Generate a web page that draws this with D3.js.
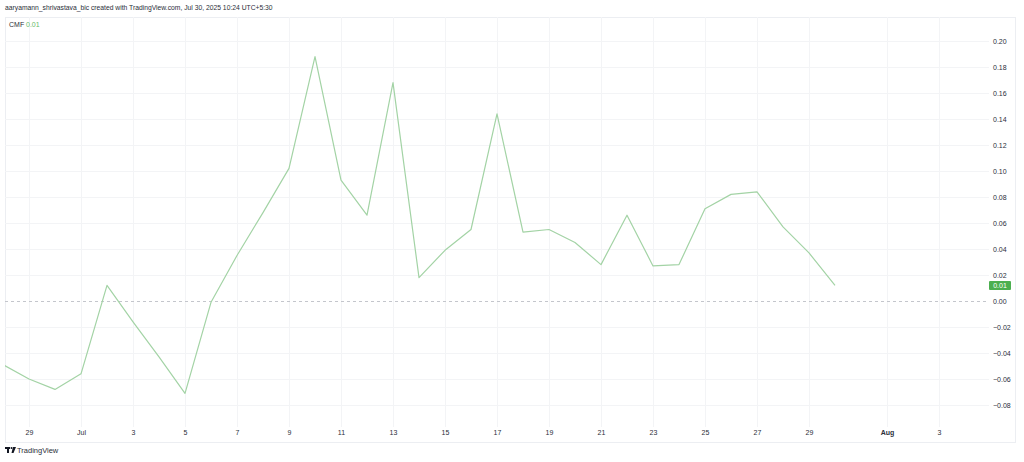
<!DOCTYPE html>
<html>
<head>
<meta charset="utf-8">
<script src="https://cdn.jsdelivr.net/npm/d3@7"></script>
<style>
  html, body { margin: 0; padding: 0; background: #ffffff; }
  svg { display: block; font-family: "Liberation Sans", "DejaVu Sans", sans-serif; }
</style>
</head>
<body>
<div id="chart"></div>
<script>
// CMF daily values, Jun 28 .. Jul 30 2025
var dates = ["2025-06-28", "2025-06-29", "2025-06-30", "2025-07-01", "2025-07-02", "2025-07-03",
  "2025-07-04", "2025-07-05", "2025-07-06", "2025-07-07", "2025-07-08", "2025-07-09",
  "2025-07-10", "2025-07-11", "2025-07-12", "2025-07-13", "2025-07-14", "2025-07-15",
  "2025-07-16", "2025-07-17", "2025-07-18", "2025-07-19", "2025-07-20", "2025-07-21",
  "2025-07-22", "2025-07-23", "2025-07-24", "2025-07-25", "2025-07-26", "2025-07-27",
  "2025-07-28", "2025-07-29", "2025-07-30"];
var cmf = [-0.049, -0.060, -0.068, -0.056, 0.012, -0.016,
  -0.043, -0.071, -0.001, 0.035, 0.068, 0.102,
  0.188, 0.093, 0.066, 0.168, 0.018, 0.039,
  0.055, 0.144, 0.053, 0.055, 0.045, 0.028,
  0.066, 0.027, 0.028, 0.071, 0.082, 0.084,
  0.057, 0.037, 0.012];

// time axis ticks
var xTickDates = ["2025-06-29", "2025-07-01", "2025-07-03", "2025-07-05", "2025-07-07", "2025-07-09",
  "2025-07-11", "2025-07-13", "2025-07-15", "2025-07-17", "2025-07-19", "2025-07-21",
  "2025-07-23", "2025-07-25", "2025-07-27", "2025-07-29", "2025-08-01", "2025-08-03"];
var xTickLabels = ["29", "Jul", "3", "5", "7", "9", "11", "13", "15", "17", "19", "21",
  "23", "25", "27", "29", "Aug", "3"];
var yTicks = [-0.08, -0.06, -0.04, -0.02, 0, 0.02, 0.04, 0.06, 0.08, 0.10, 0.12, 0.14, 0.16, 0.18, 0.20];

var lastLabel = "0.01";
var headerText = "aaryamann_shrivastava_bic created with TradingView.com, Jul 30, 2025 10:24 UTC+5:30";

var width = 1024, height = 462;
var plotLeft = 5, plotRight = 989, plotTop = 17, plotBottom = 427;
var textColor = "#2a2e39";

var parse = d3.utcParse("%Y-%m-%d");
var data = dates.map(function (d, i) { return { date: parse(d), value: cmf[i] }; });

var x = d3.scaleUtc()
  .domain([parse("2025-06-28"), parse("2025-08-03")])
  .range([3, 939]);

var y = d3.scaleLinear()
  .domain([-0.08, 0.20])
  .range([405, 41]);

var svg = d3.select("#chart").append("svg")
  .attr("width", width)
  .attr("height", height);

svg.append("defs").append("clipPath")
  .attr("id", "plot-clip")
  .append("rect")
  .attr("x", plotLeft)
  .attr("y", plotTop)
  .attr("width", plotRight - plotLeft)
  .attr("height", plotBottom - plotTop);

// header
svg.append("text")
  .attr("x", 5)
  .attr("y", 10)
  .attr("font-size", 6.75)
  .attr("fill", textColor)
  .text(headerText);

// outer frame
svg.append("rect")
  .attr("x", 5.5)
  .attr("y", 17.5)
  .attr("width", 1010)
  .attr("height", 425)
  .attr("fill", "none")
  .attr("stroke", "#eceef2");

// grid
var grid = svg.append("g").attr("stroke", "#f3f4f6").attr("stroke-width", 1);
grid.selectAll("line.v")
  .data(xTickDates)
  .join("line")
  .attr("class", "v")
  .attr("x1", function (d) { return Math.round(x(parse(d))) + 0.5; })
  .attr("x2", function (d) { return Math.round(x(parse(d))) + 0.5; })
  .attr("y1", plotTop)
  .attr("y2", plotBottom);
grid.selectAll("line.h")
  .data(yTicks.filter(function (d) { return d !== 0; }))
  .join("line")
  .attr("class", "h")
  .attr("x1", plotLeft)
  .attr("x2", plotRight)
  .attr("y1", function (d) { return Math.round(y(d)) + 0.5; })
  .attr("y2", function (d) { return Math.round(y(d)) + 0.5; });

// zero line
svg.append("line")
  .attr("x1", plotLeft)
  .attr("x2", plotRight)
  .attr("y1", Math.round(y(0)) + 0.5)
  .attr("y2", Math.round(y(0)) + 0.5)
  .attr("stroke", "#c4c6cc")
  .attr("stroke-dasharray", "3,3");

// CMF line
var line = d3.line()
  .x(function (d) { return x(d.date); })
  .y(function (d) { return y(d.value); });

svg.append("path")
  .datum(data)
  .attr("clip-path", "url(#plot-clip)")
  .attr("fill", "none")
  .attr("stroke", "#a3d3a5")
  .attr("stroke-width", 1.2)
  .attr("stroke-linejoin", "round")
  .attr("d", line);

// price axis
var yAxis = svg.append("g")
  .attr("transform", "translate(993,0)")
  .call(d3.axisRight(y).tickValues(yTicks).tickFormat(d3.format(".2f")).tickSize(0).tickPadding(0));
yAxis.select(".domain").remove();
yAxis.selectAll("text")
  .attr("font-size", 7)
  .attr("font-family", "Liberation Sans, DejaVu Sans, sans-serif")
  .attr("fill", textColor);

// time axis
var xAxis = svg.append("g")
  .attr("transform", "translate(0,430)")
  .call(d3.axisBottom(x)
    .tickValues(xTickDates.map(parse))
    .tickFormat(function (d, i) { return xTickLabels[i]; })
    .tickSize(0).tickPadding(0));
xAxis.select(".domain").remove();
xAxis.selectAll("text")
  .attr("font-size", 7)
  .attr("font-family", "Liberation Sans, DejaVu Sans, sans-serif")
  .attr("fill", textColor)
  .attr("font-weight", function (d, i) { return xTickLabels[i] === "Aug" ? "bold" : null; });

// last value label
var last = data[data.length - 1];
var ly = y(last.value);
svg.append("rect")
  .attr("x", 989)
  .attr("y", ly - 4.5)
  .attr("width", 22)
  .attr("height", 9)
  .attr("rx", 1)
  .attr("fill", "#4caf50");
svg.append("text")
  .attr("x", 1000)
  .attr("y", ly + 2.5)
  .attr("text-anchor", "middle")
  .attr("font-size", 7)
  .attr("fill", "#ffffff")
  .text(lastLabel);

// legend
svg.append("text")
  .attr("x", 9)
  .attr("y", 27)
  .attr("font-size", 7)
  .attr("fill", textColor)
  .text("CMF");
svg.append("text")
  .attr("x", 26)
  .attr("y", 27)
  .attr("font-size", 7)
  .attr("fill", "#66bb6a")
  .text(lastLabel);

// TradingView footer
var logo = svg.append("g").attr("transform", "translate(5,447)").attr("fill", "#131722");
logo.append("rect").attr("x", 0).attr("y", 0).attr("width", 5).attr("height", 2);
logo.append("rect").attr("x", 2).attr("y", 0).attr("width", 2).attr("height", 6);
logo.append("circle").attr("cx", 6.5).attr("cy", 1).attr("r", 1);
logo.append("path").attr("d", "M8,0 L11,0 L8.5,6 L6.5,6 Z");
svg.append("text")
  .attr("x", 17)
  .attr("y", 453)
  .attr("font-size", 7.5)
  .attr("fill", textColor)
  .text("TradingView");
</script>
</body>
</html>
